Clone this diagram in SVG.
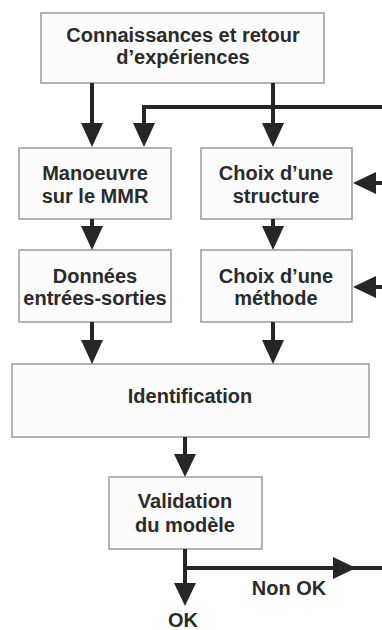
<svg xmlns="http://www.w3.org/2000/svg" width="382" height="630" viewBox="0 0 382 630">
<defs>
<style>
.box{fill:#fcfcfc;stroke:#9a9a9a;stroke-width:1.5}
.t{font-family:"Liberation Sans",Arial,sans-serif;font-weight:bold;font-size:20px;fill:#2b2b2b;text-anchor:middle}
.ln{fill:none;stroke:#262626;stroke-width:4}
.ah{fill:#262626}
</style>
</defs>
<rect width="382" height="630" fill="#ffffff"/>
<g id="connaissances">
<rect class="box" x="41" y="13" width="283" height="70"/>
<text class="t" x="183" y="42">Connaissances et retour</text>
<text class="t" x="183" y="64">d’expériences</text>
</g>
<g id="manoeuvre">
<rect class="box" x="19" y="148" width="152" height="71"/>
<text class="t" x="95" y="180">Manoeuvre</text>
<text class="t" x="95" y="203">sur le MMR</text>
</g>
<g id="structure">
<rect class="box" x="201" y="148" width="151" height="71"/>
<text class="t" x="276" y="180">Choix d’une</text>
<text class="t" x="276" y="203">structure</text>
</g>
<g id="donnees">
<rect class="box" x="19" y="250" width="152" height="72"/>
<text class="t" x="95" y="283">Données</text>
<text class="t" x="95" y="305">entrées-sorties</text>
</g>
<g id="methode">
<rect class="box" x="201" y="250" width="151" height="72"/>
<text class="t" x="276" y="283">Choix d’une</text>
<text class="t" x="276" y="305">méthode</text>
</g>
<g id="identification">
<rect class="box" x="12" y="364" width="357" height="73"/>
<text class="t" x="190" y="403">Identification</text>
</g>
<g id="validation">
<rect class="box" x="109" y="477" width="153" height="72"/>
<text class="t" x="185" y="508">Validation</text>
<text class="t" x="185" y="532">du modèle</text>
</g>
<g id="connectors">
<path class="ln" d="M92 83V126"/><polygon class="ah" points="81,123 103,123 92,147"/>
<path class="ln" d="M382 107H144V126"/><polygon class="ah" points="133,123 155,123 144,147"/>
<path class="ln" d="M273 83V126"/><polygon class="ah" points="262,123 284,123 273,147"/>
<path class="ln" d="M92 219V229"/><polygon class="ah" points="81,226 103,226 92,250"/>
<path class="ln" d="M273 219V229"/><polygon class="ah" points="262,226 284,226 273,250"/>
<path class="ln" d="M92 322V343"/><polygon class="ah" points="81,340 103,340 92,364"/>
<path class="ln" d="M273 322V343"/><polygon class="ah" points="262,340 284,340 273,364"/>
<path class="ln" d="M382 183H374"/><polygon class="ah" points="376,172 376,194 353,183"/>
<path class="ln" d="M382 287H374"/><polygon class="ah" points="376,276 376,298 353,287"/>
<path class="ln" d="M185 437V457"/><polygon class="ah" points="174,454 196,454 185,477"/>
<path class="ln" d="M185 549V586"/><polygon class="ah" points="174,583 196,583 185,606"/>
<path class="ln" d="M185 568H382"/><polygon class="ah" points="333,557 333,579 356,568"/>
<text class="t" x="289" y="595">Non OK</text>
<text class="t" x="183" y="627">OK</text>
</g>
</svg>
